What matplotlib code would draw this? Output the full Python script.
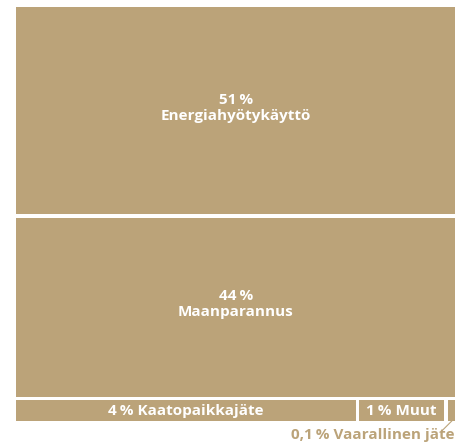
import matplotlib
matplotlib.use("Agg")
import matplotlib.pyplot as plt
from matplotlib.patches import Rectangle

# data
labels = ["Energiahyötykäyttö", "Maanparannus", "Kaatopaikkajäte", "Muut", "Vaarallinen jäte"]
shares = [51, 44, 4, 1, 0.1]
share_text = ["51\u2009%", "44\u2009%", "4\u2009%", "1\u2009%", "0,1\u2009%"]

tan = "#BBA379"

fig = plt.figure(figsize=(4.56, 4.44), dpi=100)
ax = fig.add_axes([0, 0, 1, 1])
ax.set_xlim(0, 456)
ax.set_ylim(444, 0)
ax.axis("off")

# treemap layout: two full-width rows, then the small ones share one row
x0, y0, W, H = 16, 7, 440, 414
gap = 3.5
rows = [[0], [1], [2, 3, 4]]
row_vals = [sum(shares[i] for i in r) for r in rows]
per_unit = (H - gap * (len(rows) - 1)) / sum(row_vals)

fam = ["Open Sans", "DejaVu Sans"]
fs = 11

y = y0
for r, rv in zip(rows, row_vals):
    h = rv * per_unit
    avail = W - gap * (len(r) - 1)
    x = x0
    for i in r:
        w = shares[i] / rv * avail
        ax.add_patch(Rectangle((x, y), w, h, facecolor=tan, edgecolor="none"))
        cx, cy = x + w / 2, y + h / 2
        if len(r) == 1:
            ax.text(cx, cy - 3, share_text[i] + "\n" + labels[i], ha="center", va="center",
                    fontsize=fs, linespacing=1.15, family=fam, fontweight="bold", color="white")
        elif shares[i] >= 1:
            ax.text(cx, cy + 0.5, share_text[i] + " " + labels[i], ha="center", va="center",
                    fontsize=fs, family=fam, fontweight="bold", color="white")
        else:
            # tiny slice, label outside with a leader line
            ax.plot([x + w / 2, x + w / 2 - 10], [y + h, y + h + 10], color=tan, lw=0.8)
            ax.text(455, y + h + 18, share_text[i] + " " + labels[i], ha="right",
                    va="baseline", fontsize=fs, family=fam, fontweight="bold", color=tan)
        x += w + gap
    y += h + gap

fig.savefig("out.png", dpi=100)
